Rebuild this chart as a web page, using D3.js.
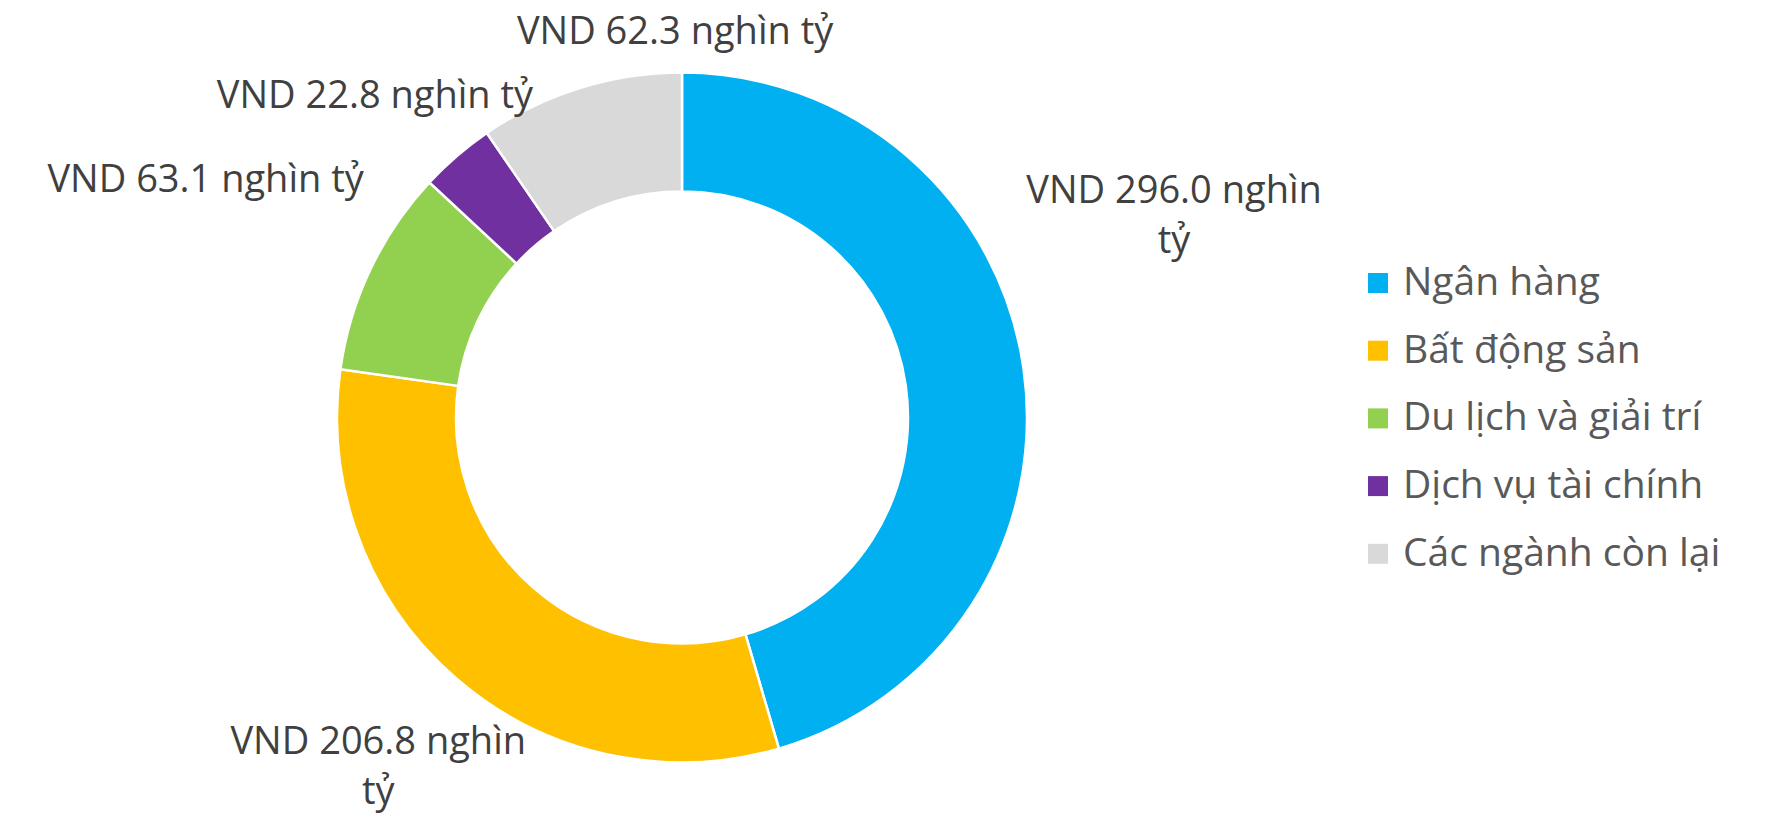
<!DOCTYPE html>
<html>
<head>
<meta charset="utf-8">
<script src="https://cdn.jsdelivr.net/npm/d3@7"></script>
<style>
  body { margin: 0; background: #fff; }
  text { font-family: "Open Sans", sans-serif; }
</style>
</head>
<body>
<div id="donut-chart"></div>
<script>
// data
let sectors = ["Ngân hàng", "Bất động sản", "Du lịch và giải trí", "Dịch vụ tài chính", "Các ngành còn lại"];
let values = [296.0, 206.8, 63.1, 22.8, 62.3];
let colors = ["#00B0F0", "#FFC000", "#92D050", "#7030A0", "#D9D9D9"];
let labelLines = [
    ["VND 296.0 nghìn", "tỷ"],
    ["VND 206.8 nghìn", "tỷ"],
    ["VND 63.1 nghìn tỷ"],
    ["VND 22.8 nghìn tỷ"],
    ["VND 62.3 nghìn tỷ"]
];

let width = 1775, height = 817;
let cx = 682, cy = 417.5;
let outerR = 345, innerR = 226;

// nudges for label blocks away from their arc centroid (Excel best-fit look)
let labelNudge = [[31, -137], [1, -4], [-56, -39], [-3, 30], [131, 58]];

let svg = d3.select('#donut-chart')
    .append('svg')
    .attr("width", width)
    .attr("height", height);

let data = sectors.map(function (s, i) {
    return {sector: s, value: values[i], color: colors[i], lines: labelLines[i], nudge: labelNudge[i]};
});

let pie = d3.pie()
    .sort(null)
    .value(function (d) { return d.value; });

let arc = d3.arc()
    .innerRadius(innerR)
    .outerRadius(outerR);

let labelArc = d3.arc()
    .innerRadius(outerR * 1.35)
    .outerRadius(outerR * 1.35);

let g = svg.append('g')
    .attr("transform", "translate(" + cx + "," + cy + ")");

let arcs = pie(data);

g.selectAll('path')
    .data(arcs)
    .enter()
    .append('path')
    .attr('d', arc)
    .attr('fill', function (d) { return d.data.color; })
    .attr('stroke', '#fff')
    .attr('stroke-width', 2.5);

// data labels
let lineGap = 50;
let labels = g.selectAll('.label')
    .data(arcs)
    .enter()
    .append('text')
    .attr('class', 'label')
    .attr('text-anchor', 'middle')
    .attr('font-size', 38)
    .attr('fill', '#404040')
    .attr('transform', function (d) {
        let c = labelArc.centroid(d);
        return "translate(" + (c[0] + d.data.nudge[0]) + "," + (c[1] + d.data.nudge[1]) + ")";
    });

labels.each(function (d) {
    let n = d.data.lines.length;
    d3.select(this).selectAll('tspan')
        .data(d.data.lines)
        .enter()
        .append('tspan')
        .attr('x', 0)
        .attr('y', function (l, i) { return (i - (n - 1) / 2) * lineGap + 13.5; })
        .text(function (l) { return l; });
});

// legend
let legend = svg.append('g')
    .attr("transform", "translate(1368,295)");

let rows = legend.selectAll('g')
    .data(data)
    .enter()
    .append('g')
    .attr('transform', function (d, i) { return "translate(0," + (i * 67.7) + ")"; });

rows.append('rect')
    .attr('x', 0)
    .attr('y', -22)
    .attr('width', 20)
    .attr('height', 20)
    .attr('fill', function (d) { return d.color; });

rows.append('text')
    .attr('x', 35)
    .attr('y', 0)
    .attr('font-size', 39)
    .attr('fill', '#595959')
    .text(function (d) { return d.sector; });
</script>
</body>
</html>
